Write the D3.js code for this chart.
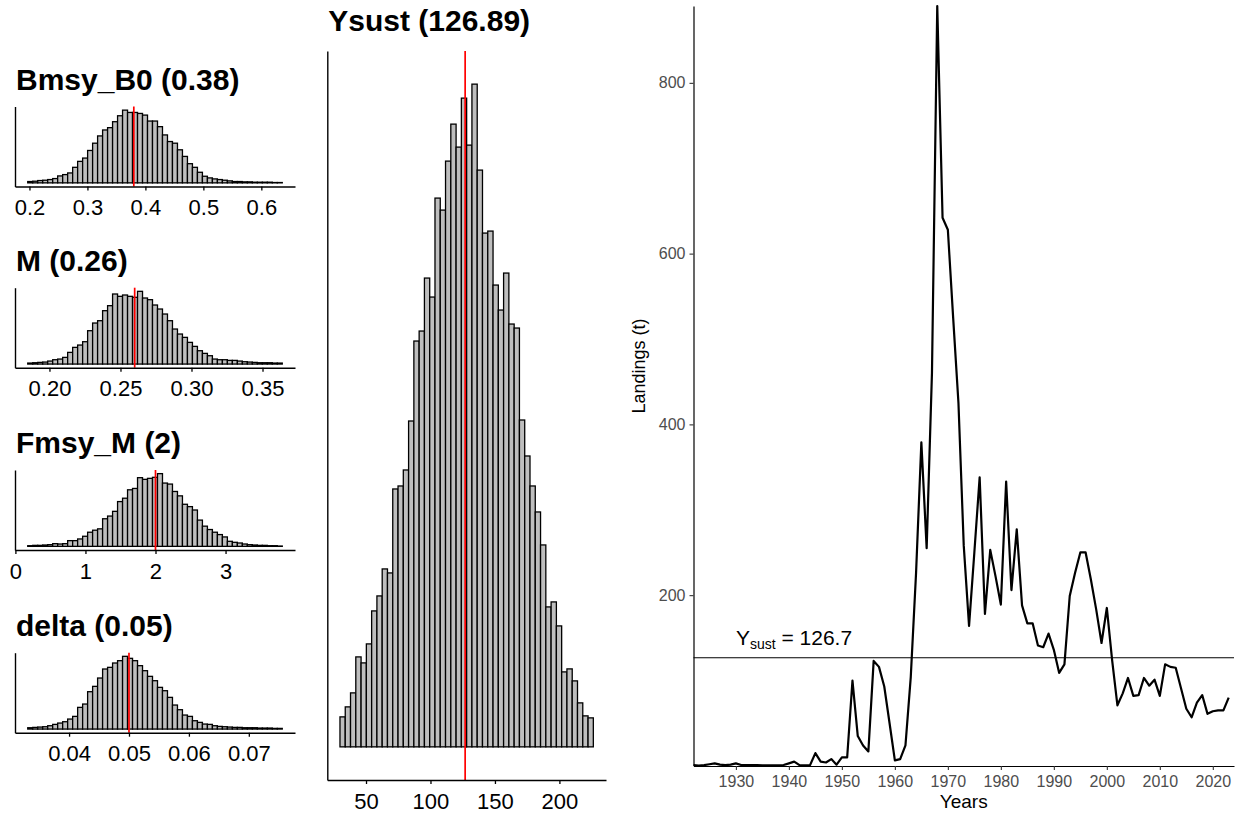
<!DOCTYPE html>
<html><head><meta charset="utf-8">
<script src="https://cdn.jsdelivr.net/npm/d3@7"></script>
<style>
body{margin:0;background:#fff;}
svg{display:block;font-family:"Liberation Sans",Arial,Helvetica,sans-serif;}
</style></head><body>
<svg id="chart" width="1239" height="815"></svg>
<script>
// ---------- data ----------
const bmsyTitle = "Bmsy_B0 (0.38)";
const bmsyMedian = 0.38;
const bmsyBinStart = 0.197, bmsyBinWidth = 0.00861;
const bmsyCounts = [4,5,7,8,10,13,21,25,30,47,65,75,98,120,142,160,167,185,203,220,213,213,210,205,187,187,170,145,125,120,100,80,58,47,32,20,15,12,10,8,6,4,4,3,3,2,2,2,2,1,1];
const bmsyTicks = [0.2,0.3,0.4,0.5,0.6];
const bmsyTickLabels = ["0.2","0.3","0.4","0.5","0.6"];

const mTitle = "M (0.26)";
const mMedian = 0.26;
const mBinStart = 0.1847, mBinWidth = 0.003514;
const mCounts = [3,4,5,6,9,13,15,20,35,50,57,67,100,123,130,160,175,210,203,207,203,200,218,198,193,177,165,150,130,105,90,80,65,53,40,32,25,15,13,13,11,11,9,7,6,5,4,4,4,3,3];
const mTicks = [0.20,0.25,0.30,0.35];
const mTickLabels = ["0.20","0.25","0.30","0.35"];

const fmsyTitle = "Fmsy_M (2)";
const fmsyMedian = 2.0;
const fmsyBinStart = 0.176, fmsyBinWidth = 0.07125;
const fmsyCounts = [2,3,3,4,5,8,7,8,17,17,22,30,42,48,52,82,90,104,133,143,168,172,204,199,202,205,216,188,185,163,150,125,118,108,78,60,50,42,35,28,15,12,10,7,5,4,3,3,2,2,1];
const fmsyTicks = [0,1,2,3];
const fmsyTickLabels = ["0","1","2","3"];

const deltaTitle = "delta (0.05)";
const deltaMedian = 0.05;
const deltaBinStart = 0.0331, deltaBinWidth = 0.000833;
const deltaCounts = [4,5,6,7,10,14,18,22,30,38,65,75,112,128,153,180,185,198,205,218,212,205,190,175,158,145,125,115,95,72,58,42,38,25,20,15,14,10,8,7,6,5,5,4,4,4,3,3,3,2,2];
const deltaTicks = [0.04,0.05,0.06,0.07];
const deltaTickLabels = ["0.04","0.05","0.06","0.07"];

const ysustTitle = "Ysust (126.89)";
const ysustMedian = 126.89;
const ysustBinStart = 29.8, ysustBinWidth = 4.094;
const ysustCounts = [30,40,54,90,84,103,136,151,178,174,258,261,277,326,406,416,469,450,549,537,586,623,600,649,602,663,577,514,516,462,437,474,423,419,327,291,261,235,202,140,145,121,75,78,66,44,31,29];
const ysustTicks = [50,100,150,200];
const ysustTickLabels = ["50","100","150","200"];

const years = [1922,1923,1924,1925,1926,1927,1928,1929,1930,1931,1932,1933,1934,1935,1936,1937,1938,1939,1940,1941,1942,1943,1944,1945,1946,1947,1948,1949,1950,1951,1952,1953,1954,1955,1956,1957,1958,1959,1960,1961,1962,1963,1964,1965,1966,1967,1968,1969,1970,1971,1972,1973,1974,1975,1976,1977,1978,1979,1980,1981,1982,1983,1984,1985,1986,1987,1988,1989,1990,1991,1992,1993,1994,1995,1996,1997,1998,1999,2000,2001,2002,2003,2004,2005,2006,2007,2008,2009,2010,2011,2012,2013,2014,2015,2016,2017,2018,2019,2020,2021,2022,2023];
const landings = [1,0.5,1,2,3,1.5,1,1.5,3,1,1,1,1,0.8,0.8,0.8,0.8,1,3,5,1,0.6,1,15,5,4,8,1.5,10,10,100,35,24,17,123,116,93,50,6.5,8,24,104,226,379,255,460,890,642,628,525,425,258,164,250,338,178,253,222,189,333,206,277,188,167,167,141,139,155,136,109,119,199,226,250,250,218,183,144,185,124,71,85,103,82,83,103,94,101,82,119,116,115,91,67,57,74,83,61,64,65,65,80];
const ysustValue = 126.7;
const yearTicks = [1930,1940,1950,1960,1970,1980,1990,2000,2010,2020];
const landingTicks = [200,400,600,800];

// ---------- drawing ----------
const svg = d3.select("#chart");
const FONT_TICK = 22;

function drawHist(cfg){
  const g = svg.append("g");
  const bins = cfg.counts.map((c,i)=>({x0: cfg.start + i*cfg.width, x1: cfg.start + (i+1)*cfg.width, c}));
  const lo = bins[0].x0, hi = bins[bins.length-1].x1, r = hi - lo;
  const x = d3.scaleLinear().domain([lo - 0.05*r, hi + 0.05*r]).range([cfg.left, cfg.right]);
  const maxC = d3.max(cfg.counts);
  const y = d3.scaleLinear().domain([-0.05*maxC, 1.05*maxC]).range([cfg.bottom, cfg.top]);

  g.selectAll("rect").data(bins).join("rect")
    .attr("x", d=>x(d.x0)).attr("width", d=>x(d.x1)-x(d.x0))
    .attr("y", d=>y(d.c)).attr("height", d=>y(0)-y(d.c))
    .attr("fill", "#BEBEBE").attr("stroke", "#000").attr("stroke-width", 1.3);

  g.append("line")
    .attr("x1", x(cfg.median)).attr("x2", x(cfg.median))
    .attr("y1", cfg.top).attr("y2", cfg.bottom)
    .attr("stroke", "#FF0000").attr("stroke-width", 1.7);

  const xa = g.append("g").attr("transform", `translate(0,${cfg.bottom})`)
    .call(d3.axisBottom(x).tickValues(cfg.ticks).tickFormat((d,i)=>cfg.labels[i])
      .tickSizeInner(4).tickSizeOuter(0).tickPadding(9));
  xa.select(".domain").attr("stroke","#000").attr("stroke-width",1.4);
  xa.selectAll(".tick line").attr("stroke","#000").attr("stroke-width",1.3);
  xa.selectAll(".tick text").attr("font-size", FONT_TICK).attr("fill","#000")
    .attr("font-family",'"Liberation Sans",Arial,sans-serif');

  const ya = g.append("g").attr("transform", `translate(${cfg.left},0)`)
    .call(d3.axisLeft(y).tickValues([]).tickSizeOuter(0));
  ya.select(".domain").attr("stroke","#000").attr("stroke-width",1.4);

  g.append("text").attr("x", cfg.left + 1).attr("y", cfg.titleY)
    .attr("font-size", 30).attr("font-weight", "bold").attr("fill","#000")
    .text(cfg.title);
}

const smallLeft = 15, smallRight = 295, smallH = 80;
const smallBottoms = [186.5, 367.7, 550, 732.7];
const smallDefs = [
  {title: bmsyTitle, median: bmsyMedian, start: bmsyBinStart, width: bmsyBinWidth, counts: bmsyCounts, ticks: bmsyTicks, labels: bmsyTickLabels},
  {title: mTitle, median: mMedian, start: mBinStart, width: mBinWidth, counts: mCounts, ticks: mTicks, labels: mTickLabels},
  {title: fmsyTitle, median: fmsyMedian, start: fmsyBinStart, width: fmsyBinWidth, counts: fmsyCounts, ticks: fmsyTicks, labels: fmsyTickLabels},
  {title: deltaTitle, median: deltaMedian, start: deltaBinStart, width: deltaBinWidth, counts: deltaCounts, ticks: deltaTicks, labels: deltaTickLabels}
];
smallDefs.forEach((d,i)=>{
  const bottom = smallBottoms[i], top = bottom - smallH;
  drawHist(Object.assign({}, d, {left: smallLeft, right: smallRight, top, bottom, titleY: top - 17}));
});

drawHist({title: ysustTitle, median: ysustMedian, start: ysustBinStart, width: ysustBinWidth,
  counts: ysustCounts, ticks: ysustTicks, labels: ysustTickLabels,
  left: 327.3, right: 606, top: 51, bottom: 780, titleY: 31});

// ---------- landings line chart ----------
(function(){
  const L = 693.5, R = 1234, T = 6, B = 766;
  const g = svg.append("g");
  const x = d3.scaleLinear().domain([d3.min(years), d3.max(years) + 1]).range([L, R]);
  const y = d3.scaleLinear().domain(d3.extent(landings)).range([B - 0.5, T]);
  const pts = years.map((yr,i)=>[yr, landings[i]]);

  g.append("line").attr("x1", L).attr("x2", R)
    .attr("y1", y(ysustValue)).attr("y2", y(ysustValue))
    .attr("stroke", "#000").attr("stroke-width", 1.2);

  g.append("path").datum(pts)
    .attr("d", d3.line().x(d=>x(d[0])).y(d=>y(d[1])))
    .attr("fill","none").attr("stroke","#000").attr("stroke-width",2.2)
    .attr("stroke-linejoin","round");

  const xa = g.append("g").attr("transform", `translate(0,${B})`)
    .call(d3.axisBottom(x).tickValues(yearTicks).tickFormat(d3.format("d"))
      .tickSizeInner(4).tickSizeOuter(0).tickPadding(6));
  xa.select(".domain").attr("stroke","#000").attr("stroke-width",1.2);
  xa.selectAll(".tick line").attr("stroke","#333").attr("stroke-width",1.1);
  xa.selectAll(".tick text").attr("font-size",16).attr("fill","#4D4D4D")
    .attr("font-family",'"Liberation Sans",Arial,sans-serif');

  const ya = g.append("g").attr("transform", `translate(${L},0)`)
    .call(d3.axisLeft(y).tickValues(landingTicks).tickFormat(d3.format("d"))
      .tickSizeInner(4).tickSizeOuter(0).tickPadding(4));
  ya.select(".domain").attr("stroke","#000").attr("stroke-width",1.2);
  ya.selectAll(".tick line").attr("stroke","#333").attr("stroke-width",1.1);
  ya.selectAll(".tick text").attr("font-size",16).attr("fill","#4D4D4D")
    .attr("font-family",'"Liberation Sans",Arial,sans-serif');

  g.append("text").attr("x", (L+R)/2).attr("y", 808).attr("text-anchor","middle")
    .attr("font-size", 19).attr("fill","#000").text("Years");
  g.append("text").attr("transform", `translate(645,366) rotate(-90)`)
    .attr("text-anchor","middle").attr("font-size", 18).attr("fill","#000").text("Landings (t)");

  const ann = g.append("text").attr("x", x(1930)).attr("y", 645)
    .attr("font-size", 21).attr("fill","#000");
  ann.append("tspan").text("Y");
  ann.append("tspan").attr("font-size", 14).attr("dy", 4).text("sust");
  ann.append("tspan").attr("dy", -4).text(" = " + ysustValue);
})();
</script>
</body></html>
